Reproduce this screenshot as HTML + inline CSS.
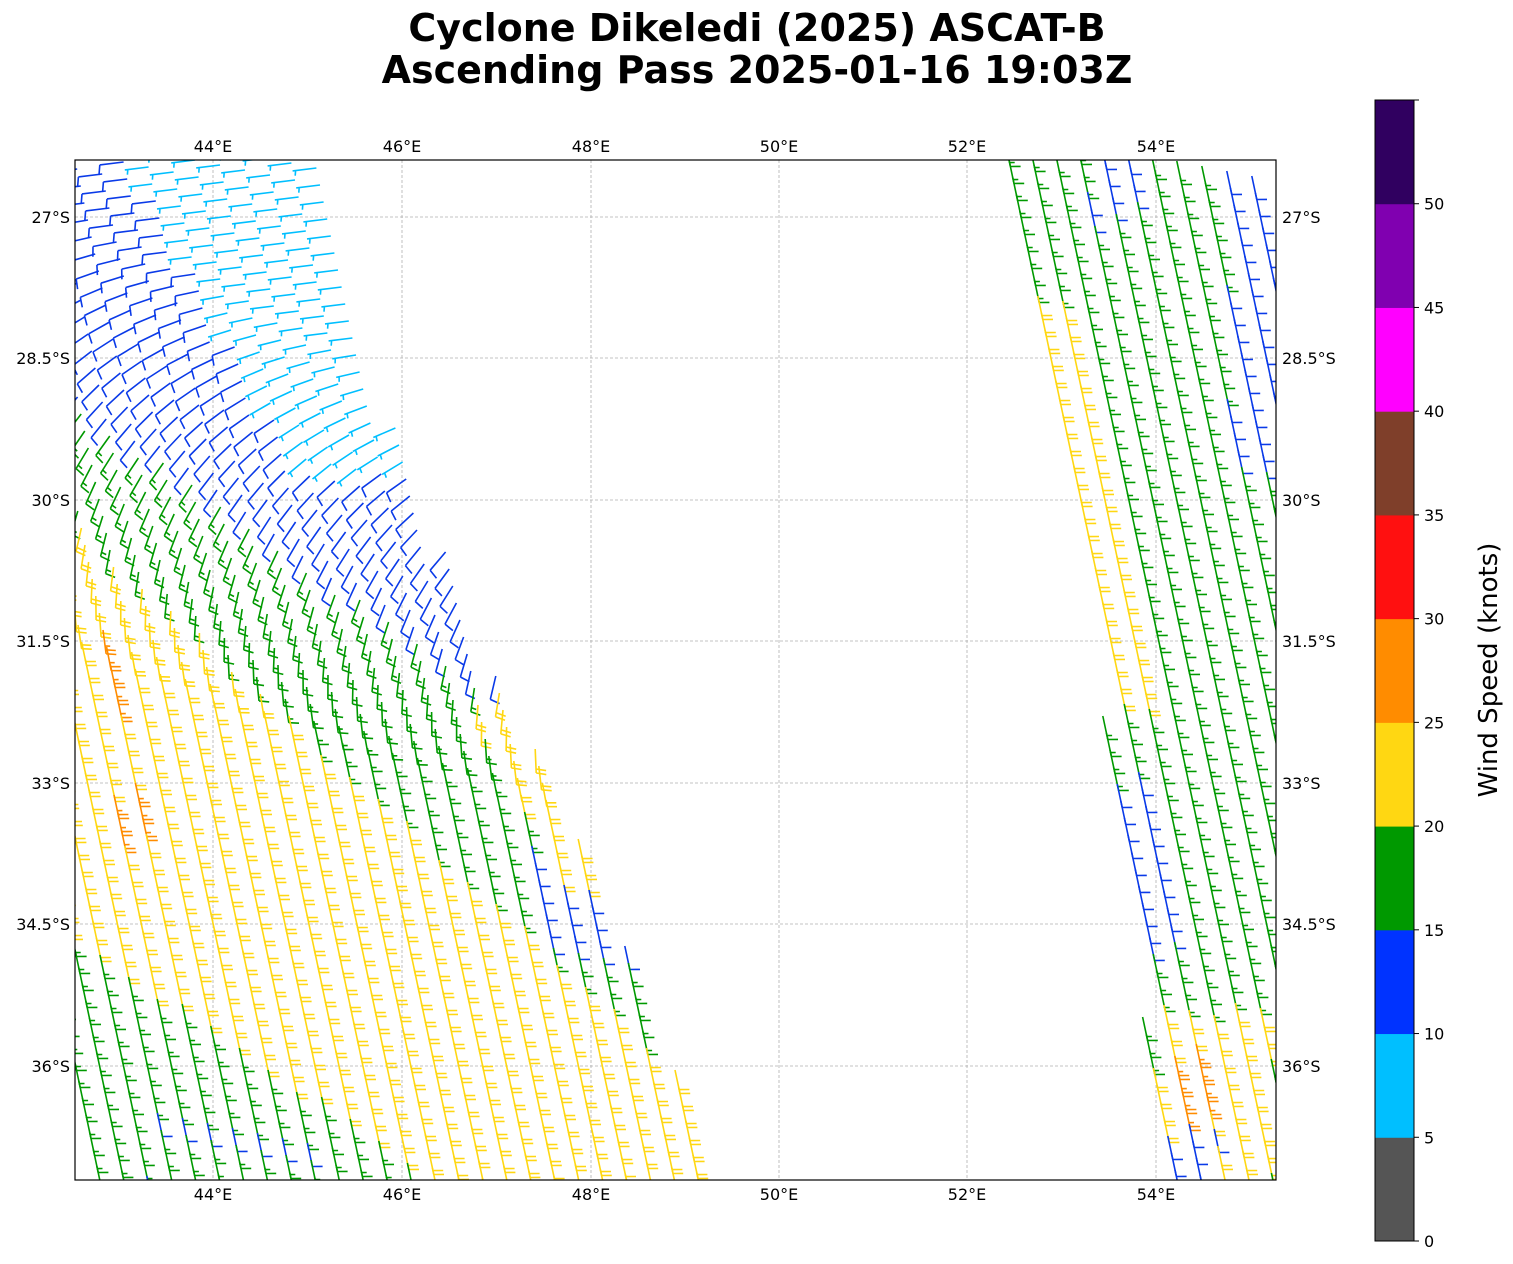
<!DOCTYPE html>
<html><head><meta charset="utf-8"><style>
body{margin:0;background:#fff;}
svg{display:block;font-family:"DejaVu Sans","Liberation Sans",sans-serif;}
</style></head><body>
<svg id="s" width="1513" height="1264" xmlns="http://www.w3.org/2000/svg">
<defs><clipPath id="c"><rect x="75" y="160" width="1201" height="1020"/></clipPath></defs>
<text x="757" y="41" font-size="38" font-weight="bold" text-anchor="middle">Cyclone Dikeledi (2025) ASCAT-B</text>
<text x="757" y="83" font-size="38" font-weight="bold" text-anchor="middle">Ascending Pass 2025-01-16 19:03Z</text>
<g id="grid" stroke="#b0b0b0" stroke-width="0.8" stroke-dasharray="3,2"></g>
<g id="barbs" clip-path="url(#c)" fill="none" stroke-width="1.6" stroke-linecap="butt"></g>
<rect x="75" y="160" width="1201" height="1020" fill="none" stroke="#000" stroke-width="1.2"/>
<g id="lab" font-size="16"></g>
<g id="cb"></g>
<text transform="translate(1497,670) rotate(-90)" font-size="26" text-anchor="middle">Wind Speed (knots)</text>
</svg>
<script>
const NS="http://www.w3.org/2000/svg";
function el(p,t,a,txt){const e=document.createElementNS(NS,t);for(const k in a)e.setAttribute(k,a[k]);if(txt!==undefined)e.textContent=txt;p.appendChild(e);return e;}
const grid=document.getElementById('grid'),lab=document.getElementById('lab');
const lons=[[213,'44°E'],[402,'46°E'],[591,'48°E'],[779,'50°E'],[967,'52°E'],[1156,'54°E']];
const lats=[[217,'27°S'],[358,'28.5°S'],[500,'30°S'],[641,'31.5°S'],[783,'33°S'],[924,'34.5°S'],[1066,'36°S']];
for(const [x,t] of lons){el(grid,'line',{x1:x,y1:160,x2:x,y2:1180});
 el(lab,'text',{x:x,y:152,'text-anchor':'middle'},t);el(lab,'text',{x:x,y:1200,'text-anchor':'middle'},t);}
for(const [y,t] of lats){el(grid,'line',{x1:75,y1:y,x2:1276,y2:y});
 el(lab,'text',{x:70,y:y+6,'text-anchor':'end'},t);el(lab,'text',{x:1282,y:y+6},t);}
const cb=document.getElementById('cb');
const cols=['#555555','#00bfff','#0033ff','#009900','#ffd712','#ff8c00','#ff1010','#7f3f2a','#ff00ff','#8000b0','#300060'];
const h=1141/11;
for(let i=0;i<11;i++){el(cb,'rect',{x:1375,y:1241-(i+1)*h,width:39,height:h+0.5,fill:cols[i]});}
el(cb,'rect',{x:1375,y:100,width:39,height:1141,fill:'none',stroke:'#000','stroke-width':1});
for(let i=0;i<=11;i++){const y=1241-i*h;el(cb,'line',{x1:1414,y1:y,x2:1419,y2:y,stroke:'#000'});
 if(i<=10)el(cb,'text',{x:1424,y:y+6,'font-size':16},String(i*5));}
const C={c:'#00bfff',b:'#0a3ae8',g:'#009900',y:'#ffd712',o:'#ff8c00'};
const F={c:[0,1],b:[1,0],g:[1,1],y:[2,0],o:[2,1]};
const LE=[[160,315],[270,350],[380,380],[460,410],[510,430],[590,462],[690,505],[800,565],[920,615],[1020,655],[1180,722],[1200,727]];
const RE=[[150,1000],[300,1020],[450,1050],[600,1080],[700,1100],[800,1110],[950,1130],[1060,1150],[1200,1170]];
function interp(a,y){if(y<=a[0][0])return a[0][1];for(let i=1;i<a.length;i++){if(y<=a[i][0]){const t=(y-a[i-1][0])/(a[i][0]-a[i-1][0]);return a[i-1][1]+t*(a[i][1]-a[i-1][1]);}}return a[a.length-1][1];}
const B=document.getElementById('barbs');
function barb(x,y,ang,k){
 const r=ang*Math.PI/180,dx=Math.cos(r),dy=Math.sin(r),Ls=24;
 const fx=dy,fy=-dx;
 const tx=x+dx*Ls,ty=y+dy*Ls;
 let d=`M${x.toFixed(1)} ${y.toFixed(1)}L${tx.toFixed(1)} ${ty.toFixed(1)}`;
 const [full,half]=F[k];let pos=0;
 for(let i=0;i<full;i++){const bx=tx-dx*pos,by=ty-dy*pos;d+=`M${bx.toFixed(1)} ${by.toFixed(1)}l${(fx*10+dx*2).toFixed(1)} ${(fy*10+dy*2).toFixed(1)}`;pos+=4;}
 if(half){if(full===0)pos=3;const bx=tx-dx*pos,by=ty-dy*pos;d+=`M${bx.toFixed(1)} ${by.toFixed(1)}l${(fx*5+dx*1).toFixed(1)} ${(fy*5+dy*1).toFixed(1)}`;}
 el(B,'path',{d:d,stroke:C[k]});
}
function cl(v){return Math.max(0,Math.min(1,v));}
function leftColor(x,y,e){
 if(y>940+0.67*(x-90)){ if(y>1110&&x>130&&x<330&&((x*7+y*3)%5<2))return 'b'; return 'g';}
 if(y>520+0.9*(x-75)){ if(e-x<70&&y>840&&y<950)return 'b'; if(((x>95&&x<125&&y>620&&y<700)||(x>100&&x<160&&y>780&&y<830)))return 'o'; return 'y';}
 if(e-x<45&&y>690&&y<880)return 'y';
 if(e-x<70&&y>840&&y<950)return 'b';
 if(y>400+0.7*(x-75))return 'g';
 if(y<470&&x-75>0.55*(y-160)+60)return 'c';
 return 'b';
}
function rightColor(x,y,e){
 if(y>1120&&x<1215)return 'b';
 if(y>1000&&x>1150&&x<1270){ if(x>1170&&x<1220&&y>1040&&y<1110)return 'o'; return 'y';}
 if(x-e<55&&y>290&&y<700)return 'y';
 if(x-e<45&&y>770&&y<950)return 'b';
 if(x>1225&&y<460)return 'b';
 if(x>1085&&x<1135&&y<210)return 'b';
 return 'g';
}
for(let j=-12;j<75;j++)for(let i=-8;i<55;i++){
 const x=70+i*25+j*3.6, y=135+j*17+i*5;
 if(y<140||y>1185||x<60||x>1285)continue;
 const e=interp(LE,y), e2=interp(RE,y);
 if(x<e){
  const f=cl((640-y)/440+ (x-75)/Math.max(60,e-75)*0.35);
  barb(x,y,78+95*f,leftColor(x,y,e));
 } else if(x>e2){
  barb(x,y,78,rightColor(x,y,e2));
 }
}
</script>
</body></html>
